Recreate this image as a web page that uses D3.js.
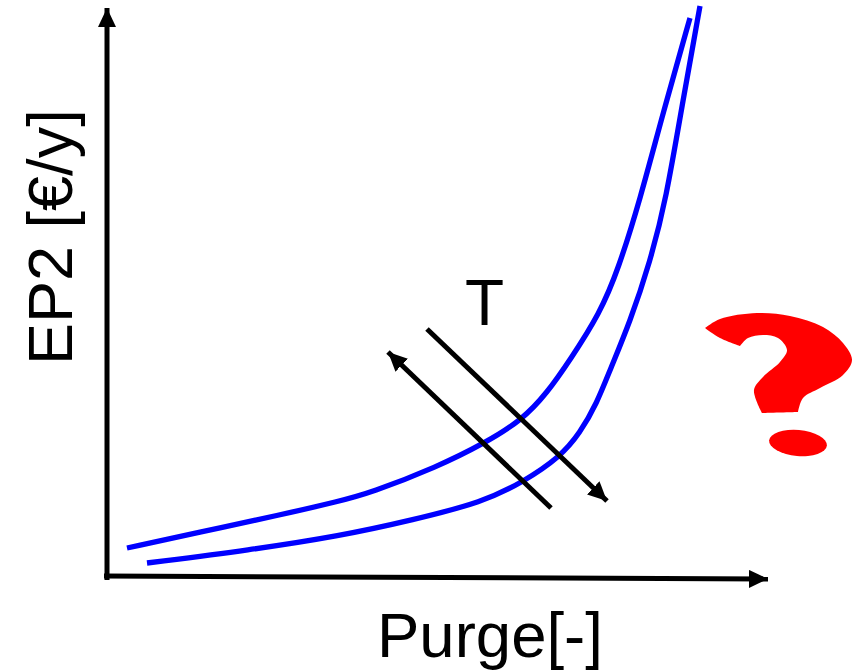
<!DOCTYPE html>
<html>
<head>
<meta charset="utf-8">
<script src="https://cdn.jsdelivr.net/npm/d3@7"></script>
<style>
	html, body { margin: 0; padding: 0; background: #fff; }
	svg { display: block; }
	text { font-family: "Liberation Sans", Arial, sans-serif; fill: #000; }
</style>
</head>
<body>
<svg id="chart" width="852" height="670"></svg>
<script>
	// values, x = purge, y = EP2 (arbitrary units, no ticks on the original)
	var curve_high_x = [20, 93, 173, 233, 263, 330, 378, 415, 440, 463, 493, 511, 533, 556, 583];
	var curve_high_y = [29, 45, 62, 76, 84, 110, 134, 157, 184, 217, 264, 307, 377, 464, 559];
	var curve_low_x = [40, 143, 233, 306, 376, 416, 453, 473, 490, 503, 523, 543, 559, 576, 593];
	var curve_low_y = [14, 27, 41, 57, 75, 95, 120, 144, 174, 207, 255, 315, 377, 477, 571];

	var t_down_x = [320, 500];
	var t_down_y = [248, 76];
	var t_up_x = [444, 281];
	var t_up_y = [69, 225];

	var axis_labels = { x: "Purge[-]", y: "EP2 [€/y]", t: "T" };

	// question mark outline, same units (corners repeated so they stay sharp)
	var mark_x = [598, 598, 613, 650, 683, 716, 736, 745, 736, 713, 696, 691, 691, 655, 655, 647, 656, 673, 680, 671, 656, 641, 633, 633, 613];
	var mark_y = [249, 249, 258, 264, 261, 250, 234, 217, 202, 189, 179, 165, 165, 164, 164, 187, 200, 215, 227, 239, 242, 239, 231, 231, 239];

	var svg = d3.select("#chart");
	var x = d3.scaleLinear().domain([0, 660]).range([107, 767]);
	var y = d3.scaleLinear().domain([0, 570]).range([577, 7]);

	function zip(xs, ys) {
		return xs.map(function (d, i) { return [d, ys[i]]; });
	}

	var defs = svg.append("defs");
	defs.append("marker")
		.attr("id", "head")
		.attr("viewBox", "0 0 10 10")
		.attr("refX", 10).attr("refY", 5)
		.attr("markerUnits", "userSpaceOnUse")
		.attr("markerWidth", 19).attr("markerHeight", 18)
		.attr("preserveAspectRatio", "none")
		.attr("orient", "auto-start-reverse")
		.append("path").attr("d", "M0,0L10,5L0,10Z").attr("fill", "#000");

	// axes
	svg.append("line")
		.attr("x1", x(0)).attr("y1", y(-3))
		.attr("x2", x(0)).attr("y2", y(569))
		.attr("stroke", "#000").attr("stroke-width", 5)
		.attr("marker-end", "url(#head)");
	svg.append("line")
		.attr("x1", x(-3)).attr("y1", y(1))
		.attr("x2", x(661)).attr("y2", y(-2))
		.attr("stroke", "#000").attr("stroke-width", 5)
		.attr("marker-end", "url(#head)");

	// curves
	var line = d3.line()
		.x(function (d) { return x(d[0]); })
		.y(function (d) { return y(d[1]); })
		.curve(d3.curveBasis);

	[zip(curve_high_x, curve_high_y), zip(curve_low_x, curve_low_y)].forEach(function (c) {
		svg.append("path")
			.attr("d", line(c))
			.attr("fill", "none")
			.attr("stroke", "#0000ff")
			.attr("stroke-width", 5.3);
	});

	// temperature arrows
	[zip(t_down_x, t_down_y), zip(t_up_x, t_up_y)].forEach(function (a) {
		svg.append("line")
			.attr("x1", x(a[0][0])).attr("y1", y(a[0][1]))
			.attr("x2", x(a[1][0])).attr("y2", y(a[1][1]))
			.attr("stroke", "#000").attr("stroke-width", 5)
			.attr("marker-end", "url(#head)");
	});

	// labels
	svg.append("text").attr("x", 377).attr("y", 657)
		.attr("font-size", 63.5).text(axis_labels.x);
	svg.append("text").attr("transform", "translate(72,365) rotate(-90)")
		.attr("font-size", 63).text(axis_labels.y);
	svg.append("text").attr("x", 465).attr("y", 325)
		.attr("font-size", 64).text(axis_labels.t);

	// red question mark
	svg.append("path")
		.attr("d", d3.line()
			.x(function (d) { return x(d[0]); })
			.y(function (d) { return y(d[1]); })
			.curve(d3.curveCatmullRomClosed.alpha(0.5))(zip(mark_x, mark_y)))
		.attr("fill", "#ff0000");
	svg.append("ellipse")
		.attr("transform", "translate(" + x(691) + "," + y(134) + ") rotate(5)")
		.attr("rx", 29).attr("ry", 13)
		.attr("fill", "#ff0000");
</script>
</body>
</html>
